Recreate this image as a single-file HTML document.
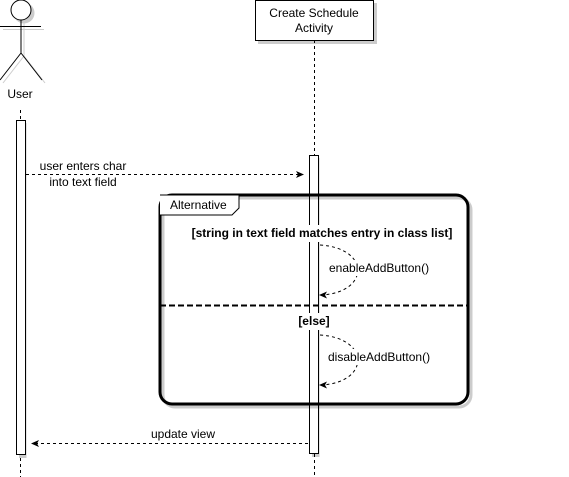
<!DOCTYPE html>
<html><head><style>body{margin:0;background:#fff}svg{display:block}text{font-family:"Liberation Sans",sans-serif;font-size:12px;fill:#000}</style></head>
<body>
<svg width="569" height="477" viewBox="0 0 569 477">
<defs>
<filter id="s" x="-5%" y="-5%" width="115%" height="115%"><feDropShadow dx="3" dy="3" stdDeviation="0" flood-color="#000" flood-opacity="0.2"/></filter>
</defs>
<g stroke="#000" fill="none" filter="url(#s)">
<circle cx="21" cy="10" r="10" fill="#fff"/>
<line x1="21" y1="20" x2="21" y2="53"/>
<line x1="0" y1="26.5" x2="41" y2="26.5"/>
<line x1="21" y1="53" x2="0" y2="80"/>
<line x1="21" y1="53" x2="42" y2="80"/>
</g>
<text x="20" y="98" text-anchor="middle">User</text>
<g stroke="#000" stroke-dasharray="3,3">
<line x1="20.5" y1="110" x2="20.5" y2="477"/>
<line x1="314.5" y1="40" x2="314.5" y2="477"/>
</g>
<rect x="255.5" y="0.5" width="118" height="40" fill="#fff" stroke="#000" filter="url(#s)"/>
<text x="314" y="17" text-anchor="middle">Create Schedule</text>
<text x="314" y="32" text-anchor="middle">Activity</text>
<rect x="16.5" y="120.5" width="9" height="334" fill="#fff" stroke="#000" filter="url(#s)"/>
<rect x="309.5" y="155.5" width="9" height="298" fill="#fff" stroke="#000" filter="url(#s)"/>
<line x1="26" y1="174.5" x2="300" y2="174.5" stroke="#000" stroke-dasharray="3,3"/>
<path d="M304 174.5 L296 171 L298 174.5 L296 178 Z"/>
<text x="83" y="170" text-anchor="middle">user enters char</text>
<text x="83" y="186" text-anchor="middle">into text field</text>
<rect x="160" y="195" width="308" height="209" rx="12" fill="none" stroke="#000" stroke-width="3" filter="url(#s)"/>
<path d="M160 195 H239 V208 L232 215 H160" fill="#fff" stroke="#000"/>
<text x="170" y="209">Alternative</text>
<line x1="160" y1="305.5" x2="468" y2="305.5" stroke="#000" stroke-width="2" stroke-dasharray="6,3"/>
<rect x="191" y="225" width="263" height="17" fill="#fff"/>
<text x="322" y="237" text-anchor="middle" font-weight="bold">[string in text field matches entry in class list]</text>
<rect x="296" y="313" width="36" height="17" fill="#fff"/>
<text x="314" y="325" text-anchor="middle" font-weight="bold">[else]</text>
<path d="M320 245 C 370 248, 370 292, 322 295" fill="none" stroke="#000" stroke-dasharray="3,3"/>
<path d="M319 295 L327 291.5 L325 295 L327 298.5 Z"/>
<rect x="327" y="260" width="104" height="16" fill="#fff"/>
<text x="329" y="272">enableAddButton()</text>
<path d="M320 335 C 370 338, 370 382, 322 385" fill="none" stroke="#000" stroke-dasharray="3,3"/>
<path d="M319 385 L327 381.5 L325 385 L327 388.5 Z"/>
<rect x="326" y="349" width="108" height="16" fill="#fff"/>
<text x="328" y="361">disableAddButton()</text>
<line x1="35" y1="443.5" x2="309" y2="443.5" stroke="#000" stroke-dasharray="3,3"/>
<path d="M31 443.5 L39 440 L37 443.5 L39 447 Z"/>
<text x="183" y="438" text-anchor="middle">update view</text>
</svg>
</body></html>
